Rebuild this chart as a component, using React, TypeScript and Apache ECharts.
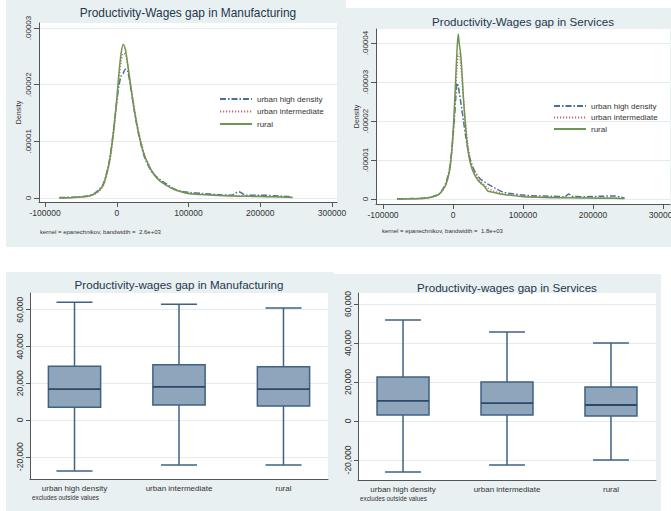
import React, { useEffect, useRef } from 'react';
import * as echarts from 'echarts';

const seriesNames = ['urban high density', 'urban intermediate', 'rural'];

// Kernel densities (values in units of 1e-5)
const mfgX = [-80000, -60000, -40000, -30000, -20000, -15000, -10000, -5000, 0, 3000, 6000, 9000, 12000, 15000, 20000, 25000, 30000, 35000, 40000, 50000, 60000, 70000, 80000, 90000, 100000, 120000, 140000, 160000, 170000, 180000, 200000, 220000, 245000];
const mfgUrbanHigh = [0.01, 0.015, 0.04, 0.09, 0.22, 0.4, 0.68, 1.15, 1.7, 1.98, 2.15, 2.2, 2.27, 2.25, 1.9, 1.5, 1.15, 0.88, 0.68, 0.44, 0.33, 0.24, 0.16, 0.12, 0.1, 0.08, 0.06, 0.05, 0.11, 0.05, 0.05, 0.04, 0.02];
const mfgUrbanInter = [0.0, 0.01, 0.03, 0.07, 0.19, 0.36, 0.63, 1.08, 1.68, 2.08, 2.4, 2.55, 2.54, 2.36, 1.95, 1.55, 1.2, 0.93, 0.72, 0.46, 0.31, 0.22, 0.15, 0.11, 0.08, 0.06, 0.05, 0.04, 0.04, 0.035, 0.03, 0.02, 0.01];
const mfgRural = [0.0, 0.01, 0.03, 0.08, 0.2, 0.38, 0.66, 1.12, 1.75, 2.2, 2.55, 2.71, 2.62, 2.38, 1.92, 1.5, 1.17, 0.9, 0.7, 0.45, 0.3, 0.22, 0.15, 0.11, 0.08, 0.06, 0.045, 0.035, 0.03, 0.03, 0.025, 0.02, 0.01];

const svcX = [-80000, -60000, -40000, -30000, -20000, -15000, -10000, -5000, -2000, 0, 2000, 4000, 6000, 7500, 9000, 11000, 13000, 15000, 18000, 21000, 25000, 30000, 35000, 40000, 45000, 50000, 55000, 60000, 70000, 80000, 100000, 120000, 140000, 160000, 165000, 170000, 190000, 210000, 230000, 245000];
const svcUrbanHigh = [0.005, 0.01, 0.025, 0.06, 0.13, 0.24, 0.42, 0.78, 1.2, 1.6, 2.05, 2.6, 2.97, 2.9, 2.72, 2.5, 2.25, 2.0, 1.62, 1.3, 0.98, 0.75, 0.6, 0.5, 0.44, 0.38, 0.33, 0.28, 0.19, 0.15, 0.1, 0.08, 0.07, 0.06, 0.13, 0.07, 0.06, 0.07, 0.08, 0.02];
const svcUrbanInter = [0, 0.005, 0.02, 0.05, 0.12, 0.22, 0.38, 0.72, 1.15, 1.6, 2.15, 2.85, 3.45, 3.7, 3.72, 3.45, 3.05, 2.6, 1.95, 1.42, 1.0, 0.72, 0.56, 0.44, 0.36, 0.28, 0.23, 0.19, 0.14, 0.11, 0.07, 0.055, 0.045, 0.04, 0.04, 0.04, 0.035, 0.03, 0.03, 0.01];
const svcRural = [0, 0.005, 0.02, 0.05, 0.12, 0.22, 0.38, 0.72, 1.2, 1.7, 2.35, 3.15, 3.9, 4.23, 3.98, 3.7, 3.2, 2.55, 1.85, 1.3, 0.9, 0.65, 0.5, 0.4, 0.32, 0.2, 0.18, 0.16, 0.12, 0.1, 0.06, 0.045, 0.035, 0.03, 0.03, 0.03, 0.025, 0.02, 0.02, 0.01];

const densityXTicks = [-100000, 0, 100000, 200000, 300000];
const mfgDensityTicks = [0, 1, 2, 3];
const svcDensityTicks = [0, 1, 2, 3, 4];

// Box plots
const boxCategories = ['urban high density', 'urban intermediate', 'rural'];
const boxCatIdx = [0, 1, 2];
const boxTicks = [-20000, 0, 20000, 40000, 60000];
const mfgLower = [-27700, -24500, -24500];
const mfgQ1 = [7000, 8200, 7600];
const mfgMedian = [16800, 18000, 16800];
const mfgQ3 = [29300, 30000, 29000];
const mfgUpper = [64100, 63000, 61000];
const svcLower = [-26200, -22500, -20000];
const svcQ1 = [3100, 3100, 2600];
const svcMedian = [10300, 9200, 8200];
const svcQ3 = [22600, 20000, 17400];
const svcUpper = [51800, 45600, 40000];

const FONT = '"Liberation Sans", Arial, sans-serif';
const BG = '#e8f0f2';
const AXIS = '#555';
const GRIDLINE = '#e3ebee';
const TITLE = '#26364a';
const BOX_FILL = '#8fa5bb';
const BOX_STROKE = '#3f6184';

const lineStyles = [
  { color: '#4d6f9c', type: [6, 2, 1.5, 2] as any, width: 1.5 },
  { color: '#c46674', type: [1.2, 1.8] as any, width: 1.5 },
  { color: '#6f9650', type: 'solid' as any, width: 1.5 },
];

const densLabel = (v: number) => (v === 0 ? '0' : '.0000' + v);
const boxLabel = (v: number) => v.toLocaleString('en-US');

function densityAxes(gi: number, xmin: number, xmax: number, ymin: number, ymax: number, yTicks: number[], nameGap: number) {
  const x = {
    type: 'value', gridIndex: gi, min: xmin, max: xmax,
    axisLine: { show: true, onZero: false, lineStyle: { color: AXIS, width: 1 } },
    axisTick: { show: true, length: 5, customValues: densityXTicks, lineStyle: { color: AXIS } },
    axisLabel: { customValues: densityXTicks, fontSize: 8.5, color: '#333', margin: 6, fontFamily: FONT, formatter: (v: number) => String(v) },
    splitLine: { show: false },
  };
  const y = {
    type: 'value', gridIndex: gi, min: ymin, max: ymax,
    name: 'Density', nameLocation: 'middle', nameRotate: 90, nameGap,
    nameTextStyle: { fontSize: 7, color: '#333', fontFamily: FONT },
    axisLine: { show: true, onZero: false, lineStyle: { color: AXIS, width: 1 } },
    axisTick: { show: true, length: 5, customValues: yTicks, lineStyle: { color: AXIS } },
    axisLabel: { customValues: yTicks, rotate: 90, fontSize: 8, color: '#333', margin: 7, fontFamily: FONT, formatter: densLabel },
    splitLine: { show: true, lineStyle: { color: GRIDLINE, width: 1 } },
  };
  return { x, y };
}

function boxAxes(gi: number, xmin: number, xmax: number, ymin: number, ymax: number) {
  const x = {
    type: 'value', gridIndex: gi, min: xmin, max: xmax,
    axisLine: { show: true, onZero: false, lineStyle: { color: AXIS, width: 1 } },
    axisTick: { show: false, customValues: boxCatIdx },
    axisLabel: { customValues: boxCatIdx, fontSize: 8, color: '#333', margin: 5, fontFamily: FONT, formatter: (v: number) => boxCategories[Math.round(v)] },
    splitLine: { show: false },
  };
  const y = {
    type: 'value', gridIndex: gi, min: ymin, max: ymax,
    axisLine: { show: true, onZero: false, lineStyle: { color: AXIS, width: 1 } },
    axisTick: { show: true, length: 4, customValues: boxTicks, lineStyle: { color: AXIS } },
    axisLabel: { customValues: boxTicks, rotate: 90, fontSize: 8.5, color: '#333', margin: 6, fontFamily: FONT, formatter: boxLabel },
    splitLine: { show: true, lineStyle: { color: GRIDLINE, width: 1 } },
  };
  return { x, y };
}

const boxRender = (params: any, api: any) => {
  const x = api.value(0);
  const pLo = api.coord([x, api.value(1)]);
  const pQ1 = api.coord([x, api.value(2)]);
  const pMed = api.coord([x, api.value(3)]);
  const pQ3 = api.coord([x, api.value(4)]);
  const pHi = api.coord([x, api.value(5)]);
  const boxW = api.size([0.5, 0])[0];
  const capW = api.size([0.345, 0])[0];
  const cx = pMed[0];
  const st = { stroke: BOX_STROKE, lineWidth: 1.5 };
  return {
    type: 'group',
    children: [
      { type: 'line', shape: { x1: cx, y1: pHi[1], x2: cx, y2: pQ3[1] }, style: st },
      { type: 'line', shape: { x1: cx, y1: pQ1[1], x2: cx, y2: pLo[1] }, style: st },
      { type: 'line', shape: { x1: cx - capW / 2, y1: pHi[1], x2: cx + capW / 2, y2: pHi[1] }, style: st },
      { type: 'line', shape: { x1: cx - capW / 2, y1: pLo[1], x2: cx + capW / 2, y2: pLo[1] }, style: st },
      { type: 'rect', shape: { x: cx - boxW / 2, y: pQ3[1], width: boxW, height: pQ1[1] - pQ3[1] }, style: { fill: BOX_FILL, stroke: BOX_STROKE, lineWidth: 1.5 } },
      { type: 'line', shape: { x1: cx - boxW / 2, y1: pMed[1], x2: cx + boxW / 2, y2: pMed[1] }, style: { stroke: '#2c4868', lineWidth: 1.8 } },
    ],
  };
};

function buildOption() {
  const a0 = densityAxes(0, -108400, 307000, -0.0706, 3.088, mfgDensityTicks, 17);
  const a1 = densityAxes(1, -110000, 310000, -0.128, 4.36, svcDensityTicks, 13);
  const a2 = boxAxes(2, -0.426, 2.426, -32100, 69100);
  const a3 = boxAxes(3, -0.433, 2.433, -30250, 65640);

  const densSeries = (xs: number[], ys: number[][], gi: number) =>
    ys.map((arr, k) => ({
      type: 'line', name: seriesNames[k], xAxisIndex: gi, yAxisIndex: gi,
      data: xs.map((xv, i) => [xv, arr[i]]),
      symbol: 'none', smooth: 0.3, lineStyle: lineStyles[k], itemStyle: { color: lineStyles[k].color },
      z: 3 + k,
    }));

  const boxData = (lo: number[], q1: number[], med: number[], q3: number[], hi: number[]) =>
    boxCatIdx.map((i) => [i, lo[i], q1[i], med[i], q3[i], hi[i]]);

  const txt = (x: number, y: number, text: string, size: number, color: string, align = 'center') => ({
    type: 'text', x, y, silent: true, z: 10,
    style: { text, fontSize: size, fill: color, fontFamily: FONT, textAlign: align, textVerticalAlign: 'middle' },
  });

  const legendBase = {
    orient: 'vertical', data: seriesNames, selectedMode: false,
    itemWidth: 32, itemHeight: 8, padding: 0,
    itemStyle: { opacity: 0, borderWidth: 0 },
    textStyle: { fontSize: 8, color: '#333', fontFamily: FONT },
  };

  return {
    animation: false,
    textStyle: { fontFamily: FONT },
    graphic: [
      { type: 'rect', shape: { x: 6, y: 0, width: 340, height: 247 }, style: { fill: BG }, z: -100, silent: true },
      { type: 'rect', shape: { x: 338, y: 8, width: 333, height: 239 }, style: { fill: BG }, z: -100, silent: true },
      { type: 'rect', shape: { x: 6, y: 272, width: 328, height: 239 }, style: { fill: BG }, z: -100, silent: true },
      { type: 'rect', shape: { x: 334, y: 274, width: 327, height: 237 }, style: { fill: BG }, z: -100, silent: true },
      txt(188, 13, 'Productivity-Wages gap in Manufacturing', 11.9, TITLE),
      txt(523, 21, 'Productivity-Wages gap in Services', 11.6, TITLE),
      txt(179, 284, 'Productivity-wages gap in Manufacturing', 11.6, TITLE),
      txt(507, 287, 'Productivity-wages gap in Services', 11.6, TITLE),
      txt(40, 232, 'kernel = epanechnikov, bandwidth =  2.6e+03', 6, '#333', 'left'),
      txt(382, 231, 'kernel = epanechnikov, bandwidth =  1.8e+03', 6, '#333', 'left'),
      txt(32, 497, 'excludes outside values', 6.3, '#333', 'left'),
      txt(360, 498, 'excludes outside values', 6.3, '#333', 'left'),
    ],
    grid: [
      { left: 39, top: 23, width: 298, height: 179, show: true, backgroundColor: '#fff', borderWidth: 0, containLabel: false, outerBoundsMode: 'none' },
      { left: 376, top: 29, width: 294, height: 175, show: true, backgroundColor: '#fff', borderWidth: 0, containLabel: false, outerBoundsMode: 'none' },
      { left: 30, top: 293, width: 298, height: 186, show: true, backgroundColor: '#fff', borderWidth: 0, containLabel: false, outerBoundsMode: 'none' },
      { left: 358, top: 293, width: 298, height: 187, show: true, backgroundColor: '#fff', borderWidth: 0, containLabel: false, outerBoundsMode: 'none' },
    ],
    xAxis: [a0.x, a1.x, a2.x, a3.x],
    yAxis: [a0.y, a1.y, a2.y, a3.y],
    legend: [
      { ...legendBase, left: 219, top: 95, itemGap: 4.5 },
      { ...legendBase, left: 553, top: 102, itemGap: 3.5 },
    ],
    series: [
      ...densSeries(mfgX, [mfgUrbanHigh, mfgUrbanInter, mfgRural], 0),
      ...densSeries(svcX, [svcUrbanHigh, svcUrbanInter, svcRural], 1),
      {
        type: 'custom', name: 'mfgBox', xAxisIndex: 2, yAxisIndex: 2, renderItem: boxRender,
        encode: { x: 0, y: [1, 2, 3, 4, 5] }, data: boxData(mfgLower, mfgQ1, mfgMedian, mfgQ3, mfgUpper),
      },
      {
        type: 'custom', name: 'svcBox', xAxisIndex: 3, yAxisIndex: 3, renderItem: boxRender,
        encode: { x: 0, y: [1, 2, 3, 4, 5] }, data: boxData(svcLower, svcQ1, svcMedian, svcQ3, svcUpper),
      },
    ],
  };
}

export default function App() {
  const ref = useRef<HTMLDivElement>(null);
  useEffect(() => {
    if (!ref.current) return;
    const chart = echarts.init(ref.current, undefined, { renderer: 'svg' });
    chart.setOption(buildOption() as any);
    return () => chart.dispose();
  }, []);
  return (
    <div
      ref={ref}
      style={{ position: 'absolute', left: 0, top: 0, width: 671, height: 511, background: '#fff' }}
    />
  );
}
